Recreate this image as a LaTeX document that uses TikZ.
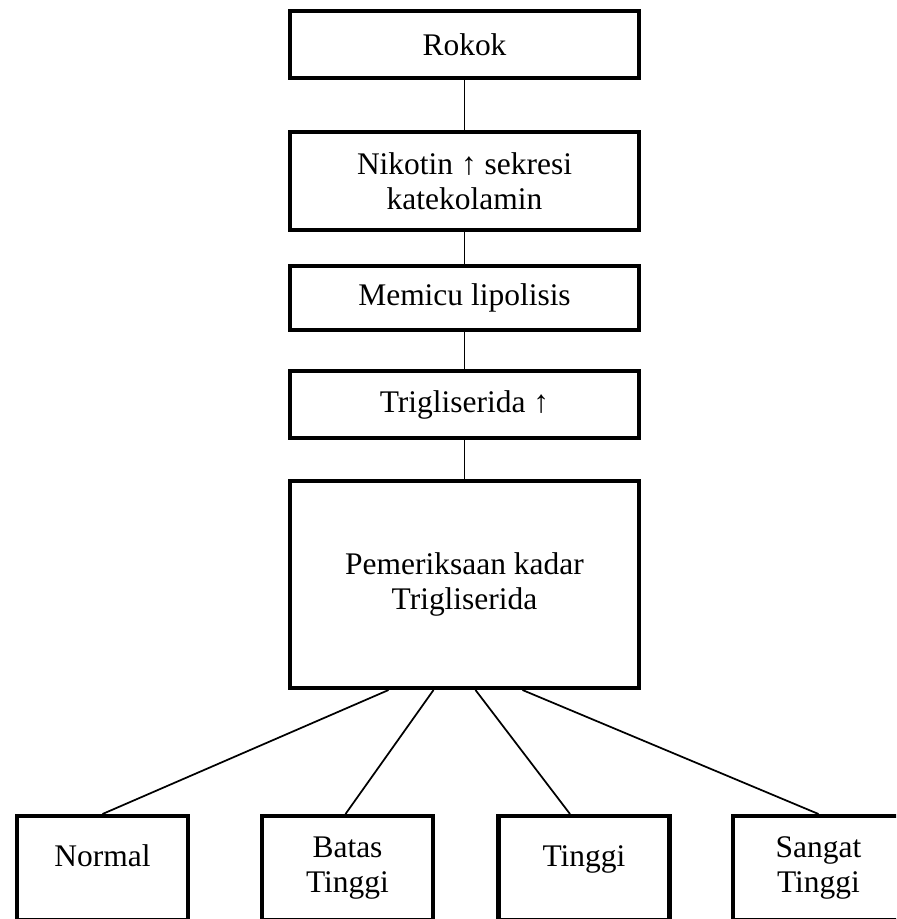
\documentclass[tikz,border=0pt]{standalone}
\usepackage{fontspec}
\setmainfont{Liberation Serif}
\usepackage{tikz}
\usetikzlibrary{calc}
\tikzset{
  tahap/.style={rectangle, draw=black, line width=3.3pt, fill=white,
                minimum width=262pt, align=center, inner sep=2pt},
  hasil/.style={rectangle, draw=black, line width=3.3pt, fill=white, anchor=north,
                minimum width=128pt, minimum height=78pt, align=center, inner sep=2pt},
  satu/.style={text height=16pt, text depth=18pt},
  garis/.style={draw=black, line width=1.3pt},
}

\begin{document}
\begin{tikzpicture}[x=0.75pt, y=-0.75pt, font={\fontsize{23.6pt}{26.3pt}\selectfont}]
\useasboundingbox (0,0) rectangle (896,919);
\clip (0,0) rectangle (896,919);
% alur utama
\node[tahap, minimum height=50pt]  (rokok)   at (464.5,44.5)  {Rokok};
\node[tahap, minimum height=73.5pt] (nikotin) at (464.5,181)  {Nikotin ↑ sekresi\\katekolamin};
\node[tahap, minimum height=48pt]  (lipo)    at (464.5,298)   {Memicu lipolisis};
\node[tahap, minimum height=50pt]  (tg)      at (464.5,404.5) {Trigliserida ↑};
\node[tahap, minimum height=155pt] (periksa) at (464.5,584.5) {Pemeriksaan kadar\\Trigliserida};
% kategori hasil
\node[hasil, satu] (normal) at (102.5,814) {Normal};
\node[hasil]       (batas)  at (347.5,814) {Batas\\Tinggi};
\node[hasil, satu] (tinggi) at (584,814)   {Tinggi};
\node[hasil]       (sangat) at (818.5,814) {Sangat\\Tinggi};
\foreach \a/\b in {rokok/nikotin, nikotin/lipo, lipo/tg, tg/periksa}
  \draw[garis] (\a.south) -- (\b.north);
\draw[garis] ($(periksa.south)+(-76,0)$) -- (normal.north);
\draw[garis] ($(periksa.south)+(-31,0)$) -- ($(batas.north)+(-2,0)$);
\draw[garis] ($(periksa.south)+(11,0)$)  -- ($(tinggi.north)+(-14,0)$);
\draw[garis] ($(periksa.south)+(58,0)$)  -- (sangat.north);
\end{tikzpicture}
\end{document}
